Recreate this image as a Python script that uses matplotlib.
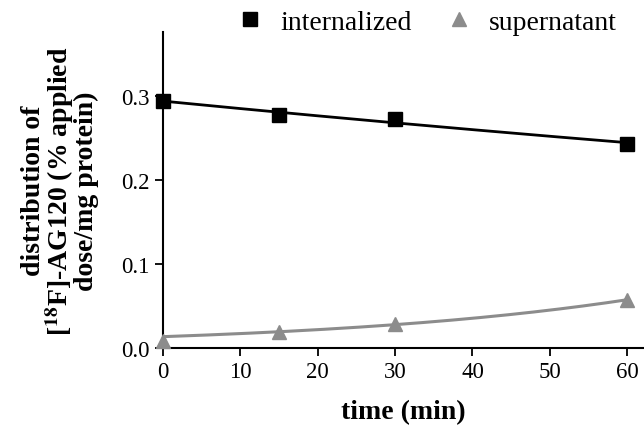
import numpy as np
import matplotlib
matplotlib.use("Agg")
import matplotlib.pyplot as plt

plt.rcParams['font.family'] = ['Liberation Serif', 'DejaVu Serif']
plt.rcParams['mathtext.fontset'] = 'stix'

time_min = [0, 15, 30, 60]
internalized = [0.294, 0.277, 0.272, 0.243]
supernatant = [0.008, 0.019, 0.028, 0.057]

# fitted curves (exponential fits to the points)
def exp_fit(x, y):
    b, a = np.polyfit(x, np.log(y), 1)
    return lambda t: np.exp(a + b * t)

t = np.linspace(0, 60, 200)
fit_int = exp_fit(time_min, internalized)
fit_sup = exp_fit(time_min[1:], supernatant[1:])

fig = plt.figure(figsize=(6.44, 4.27), dpi=100)
ax = fig.add_axes([0.253, 0.183, 0.745, 0.74])

grey = '#8c8c8c'
ax.plot(t, fit_int(t), color='black', lw=2)
ax.plot(t, fit_sup(t), color=grey, lw=2.2)
ax.plot(time_min, internalized, 's', color='black', ms=10, clip_on=False, zorder=5, label='internalized')
ax.plot(time_min, supernatant, '^', color=grey, ms=10, clip_on=False, zorder=5, label='supernatant')

ax.set_xlim(0, 62)
ax.set_ylim(0, 0.376)
ax.set_xticks(range(0, 61, 10))
ax.set_yticks([0.0, 0.1, 0.2, 0.3])
ax.set_yticklabels(['0.0', '0.1', '0.2', '0.3'])
for s in ['top', 'right']:
    ax.spines[s].set_visible(False)
for s in ['left', 'bottom']:
    ax.spines[s].set_linewidth(1.5)
ax.tick_params(direction='out', length=6, width=1.3, labelsize=16.5)

ax.set_xlabel('time (min)', fontsize=20, fontweight='bold', labelpad=12)
ax.set_ylabel('distribution of\n[$^{\\mathbf{18}}$F]-AG120 (% applied\ndose/mg protein)',
              fontsize=20, fontweight='bold', linespacing=0.88, labelpad=16)

ax.legend(loc='center', bbox_to_anchor=(0.66, 0.946), bbox_transform=fig.transFigure,
          ncol=2, frameon=False, fontsize=20, handletextpad=0.5, columnspacing=1.1,
          markerscale=0.95, handlelength=1.2)

fig.savefig('out.png', dpi=100)
